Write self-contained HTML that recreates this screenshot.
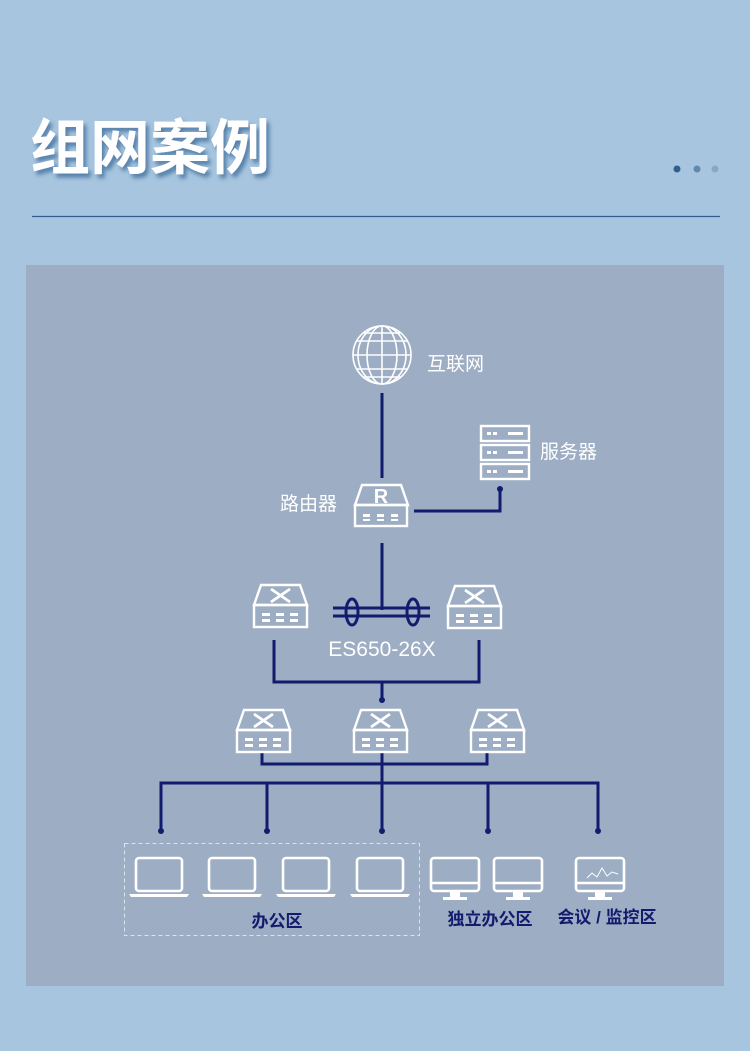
<!DOCTYPE html>
<html><head><meta charset="utf-8"><style>
html,body{margin:0;padding:0}
body{width:750px;height:1051px;background:#a7c5df;position:relative;overflow:hidden;font-family:"Liberation Sans","Noto Sans CJK SC",sans-serif}
</style></head><body>
<svg width="750" height="1051" viewBox="0 0 750 1051" xmlns="http://www.w3.org/2000/svg" style="position:absolute;left:0;top:0">
<defs>
<filter id="sh" x="-10%" y="-10%" width="130%" height="140%"><feDropShadow dx="3" dy="4" stdDeviation="2" flood-color="#3f6e9c" flood-opacity="0.8"/></filter>
<g id="sw" fill="none" stroke="#fff" stroke-width="2.4">
<path d="M7 0 H46 L53 20 H0 Z"/><rect x="0" y="20" width="53" height="22"/>
<path d="M17 4 L36 17 M36 4 L17 17" stroke-width="2.8"/>
<g stroke="none" fill="#fff"><rect x="8" y="28" width="8" height="3"/><rect x="22" y="28" width="8" height="3"/><rect x="36" y="28" width="8" height="3"/><rect x="8" y="34" width="8" height="3"/><rect x="22" y="34" width="8" height="3"/><rect x="36" y="34" width="8" height="3"/></g>
</g>
<g id="lap" fill="none" stroke="#fff" stroke-width="2.6"><rect x="1" y="1" width="46" height="33" rx="3"/><path d="M-6 37 H54 L52 40 H-4 Z" fill="#fff" stroke="none"/></g>
<g id="mon" fill="none" stroke="#fff" stroke-width="2.6"><rect x="1" y="1" width="48" height="33" rx="3"/><line x1="1" y1="26" x2="49" y2="26"/><rect x="20" y="34" width="10" height="6" fill="#fff" stroke="none"/><rect x="13" y="40" width="24" height="3" fill="#fff" stroke="none"/></g>
</defs>
<text x="30" y="169" font-size="60" font-weight="bold" fill="#fff" filter="url(#sh)" font-family="Liberation Sans,Noto Sans CJK SC,sans-serif">组网案例</text>
<circle cx="677" cy="169" r="3.5" fill="#2e5f8e"/><circle cx="697" cy="169" r="3.5" fill="#6388ad"/><circle cx="715" cy="169" r="3.5" fill="#86a9c9"/>
<line x1="32" y1="216.5" x2="720" y2="216.5" stroke="#2e5f8e" stroke-width="1.3"/>
<rect x="26" y="265" width="698" height="721" fill="#9dadc4"/>
<g fill="none" stroke="#fff" stroke-width="1.6">
<circle cx="382" cy="355" r="29"/><ellipse cx="382" cy="355" rx="15" ry="29"/><line x1="382" y1="326" x2="382" y2="384"/>
<line x1="353" y1="355" x2="411" y2="355"/><line x1="357" y1="341" x2="407" y2="341"/><line x1="357" y1="369" x2="407" y2="369"/><line x1="364" y1="333" x2="400" y2="333"/><line x1="364" y1="377" x2="400" y2="377"/>
<ellipse cx="382" cy="355" rx="24" ry="29"/>
</g>
<text x="427" y="370" font-size="19" fill="#fff">互联网</text>
<g stroke="#111c6e" stroke-width="3" fill="none">
<line x1="382" y1="393" x2="382" y2="478"/>
<path d="M414 511 H500 V489"/>
<line x1="382" y1="543" x2="382" y2="610"/>
<line x1="333" y1="608" x2="430" y2="608"/><line x1="333" y1="616" x2="430" y2="616"/>
<ellipse cx="352" cy="612" rx="6" ry="13"/><ellipse cx="413" cy="612" rx="6" ry="13"/>
<path d="M274 640 V682 H479 V640"/><line x1="382" y1="682" x2="382" y2="700"/>
<path d="M262 752 V764 H487 V752"/><line x1="382" y1="752" x2="382" y2="831"/>
<path d="M161 831 V783 H598 V831"/><line x1="267" y1="783" x2="267" y2="831"/><line x1="488" y1="783" x2="488" y2="831"/>
</g>
<g fill="#111c6e"><circle cx="500" cy="489" r="3"/><circle cx="382" cy="700" r="3"/><circle cx="161" cy="831" r="3"/><circle cx="267" cy="831" r="3"/><circle cx="382" cy="831" r="3"/><circle cx="488" cy="831" r="3"/><circle cx="598" cy="831" r="3"/></g>
<g fill="none" stroke="#fff" stroke-width="2.4"><rect x="481" y="426" width="48" height="15"/><rect x="481" y="445" width="48" height="15"/><rect x="481" y="464" width="48" height="15"/></g>
<g fill="#fff"><rect x="487" y="432" width="4" height="3"/><rect x="493" y="432" width="4" height="3"/><rect x="508" y="432" width="15" height="3"/><rect x="487" y="451" width="4" height="3"/><rect x="493" y="451" width="4" height="3"/><rect x="508" y="451" width="15" height="3"/><rect x="487" y="470" width="4" height="3"/><rect x="493" y="470" width="4" height="3"/><rect x="508" y="470" width="15" height="3"/></g>
<text x="540" y="458" font-size="19" fill="#fff">服务器</text>
<g transform="translate(355,485)" fill="none" stroke="#fff" stroke-width="2.4">
<path d="M7 0 H46 L53 20 H0 Z"/><rect x="0" y="20" width="52" height="21"/>
<text x="26" y="18" font-size="20" font-weight="bold" fill="#fff" stroke="none" text-anchor="middle">R</text>
<g stroke="none" fill="#fff"><rect x="8" y="29" width="7" height="3"/><rect x="22" y="29" width="7" height="3"/><rect x="36" y="29" width="7" height="3"/><rect x="8" y="34" width="7" height="2"/><rect x="22" y="34" width="7" height="2"/><rect x="36" y="34" width="7" height="2"/></g>
</g>
<text x="280" y="510" font-size="19" fill="#fff">路由器</text>
<use href="#sw" x="254" y="585"/><use href="#sw" x="448" y="586"/>
<text x="382" y="656" font-size="21" fill="#fff" text-anchor="middle">ES650-26X</text>
<use href="#sw" x="237" y="710"/><use href="#sw" x="354" y="710"/><use href="#sw" x="471" y="710"/>
<rect x="124.5" y="843.5" width="295" height="92" fill="none" stroke="#dbe3ee" stroke-width="1" stroke-dasharray="4,3"/>
<use href="#lap" x="135" y="857"/><use href="#lap" x="208" y="857"/><use href="#lap" x="282" y="857"/><use href="#lap" x="356" y="857"/>
<use href="#mon" x="430" y="857"/><use href="#mon" x="493" y="857"/><use href="#mon" x="575" y="857"/>
<polyline points="587,878 592,873 597,877 602,868 607,876 612,872 618,874" fill="none" stroke="#fff" stroke-width="1"/>
<g font-size="17" fill="#111c6e" font-weight="bold" text-anchor="middle">
<text x="277" y="927">办公区</text>
<text x="490" y="925">独立办公区</text>
<text x="607" y="923">会议 / 监控区</text>
</g>
</svg>
</body></html>
